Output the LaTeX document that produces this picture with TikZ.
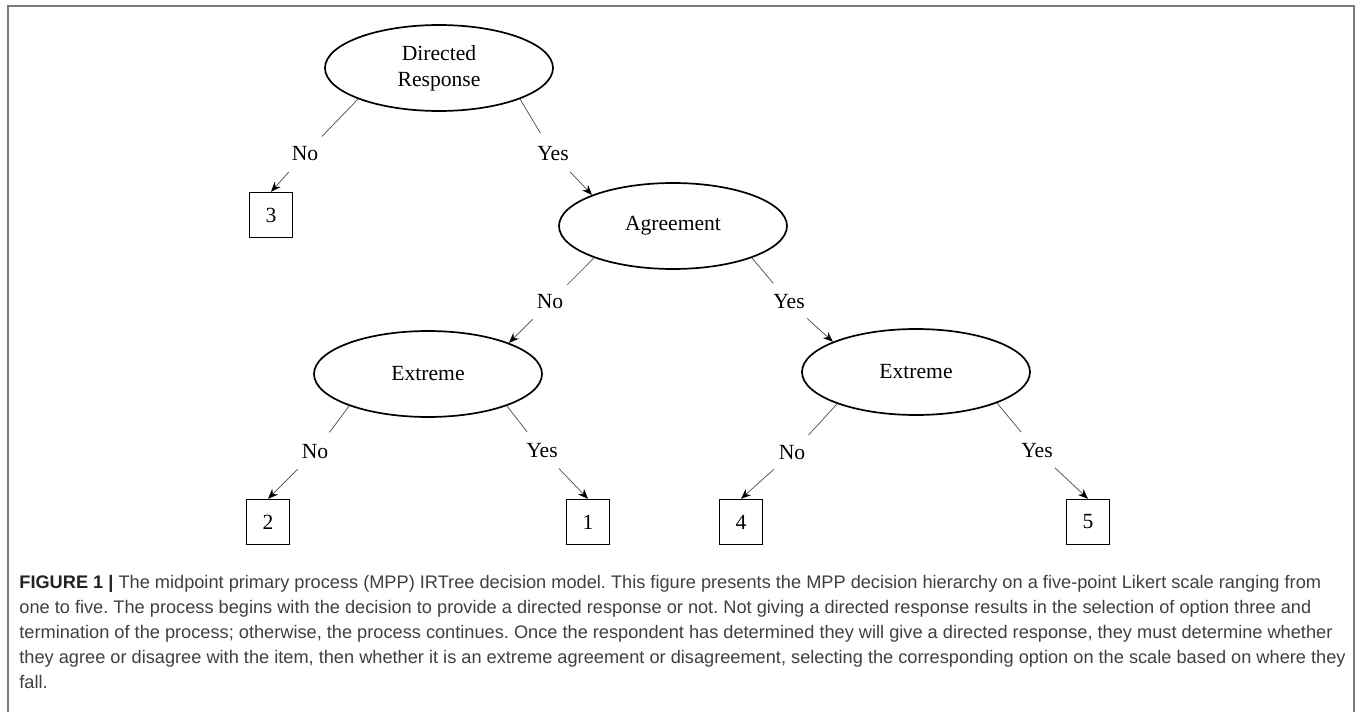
\documentclass[tikz,border=0pt]{standalone}
\usepackage{fontspec}
\setmainfont{Liberation Serif}
\newfontfamily\capfont{Liberation Sans}
\usetikzlibrary{shapes.geometric,arrows.meta}
\definecolor{frameg}{HTML}{7a7a7a}
\definecolor{stemg}{HTML}{4a4a4a}
\definecolor{capg}{HTML}{3f3f3f}
\definecolor{capk}{HTML}{222222}

\tikzset{
  choice/.style={ellipse,draw,line width=0.85pt,minimum width=114pt,minimum height=43pt,
    inner sep=0pt,align=center,font=\fontsize{10.8}{13}\selectfont},
  option/.style={rectangle,draw,line width=0.7pt,minimum width=21.5pt,minimum height=22.5pt,
    inner sep=0pt,font=\fontsize{10.8}{13}\selectfont},
  answer/.style={circle,inner sep=0pt,minimum size=24pt,font=\fontsize{10.8}{13}\selectfont},
  stem/.style={stemg,line width=0.35pt},
  pick/.style={stem,-{Stealth[length=5pt,width=4pt,black]}},
  capline/.style={anchor=base west,inner sep=0pt,text=capg,font=\capfont\fontsize{9.1}{12.6}\selectfont},
}

\begin{document}
\frenchspacing
\begin{tikzpicture}[x=0.5pt,y=-0.5pt]
  \useasboundingbox (0,0) rectangle (1357,712);
  \clip (0,0) rectangle (1357,712);

  % frame, open at the bottom
  \draw[frameg,line width=0.75pt] (8,730) -- (8,6) -- (1354,6) -- (1354,730);

  % decisions
  \node[choice] (dr)  at (439,68)  {Directed\\Response};
  \node[choice] (ag)  at (673,226) {Agreement};
  \node[choice] (exl) at (428,374) {Extreme};
  \node[choice] (exr) at (916,372) {Extreme};

  % scale options
  \foreach \k/\x/\y in {3/271/215, 2/268/522, 1/588/522, 4/741/522, 5/1088/522}
    \node[option] (b\k) at (\x,\y) {\k};

  % branch answers
  \foreach \n/\t/\x/\y in {n1/No/305/154, y1/Yes/553/154, n2/No/550/302, y2/Yes/789/302,
                           n3/No/315/452, y3/Yes/542/451, n4/No/792/453, y4/Yes/1037/451}
    \node[answer] (\n) at (\x,\y) {\t};

  % branches
  \foreach \a/\l/\b in {dr.201/n1/b3.north, dr.339/y1/ag.159,
                        ag.202/n2/exl.21, ag.338/y2/exr.160,
                        exl.202/n3/b2.north, exl.338/y3/b1.north,
                        exr.202/n4/b4.north, exr.339/y4/b5.north} {
    \draw[stem] (\a) -- (\l);
    \draw[pick] (\l) -- (\b);
  }

  % caption
  \node[capline] (c1) at (19,588) {{\color{capk}\bfseries FIGURE 1 |} The midpoint primary process (MPP) IRTree decision model. This figure presents the MPP decision hierarchy on a five-point Likert scale ranging from};
  \node[capline] (c2) at (19,613) {one to five. The process begins with the decision to provide a directed response or not. Not giving a directed response results in the selection of option three and};
  \node[capline] (c3) at (19,638) {termination of the process; otherwise, the process continues. Once the respondent has determined they will give a directed response, they must determine whether};
  \node[capline] (c4) at (19,663) {they agree or disagree with the item, then whether it is an extreme agreement or disagreement, selecting the corresponding option on the scale based on where they};
  \node[capline] (c5) at (19,688) {fall.};
\end{tikzpicture}
\end{document}
